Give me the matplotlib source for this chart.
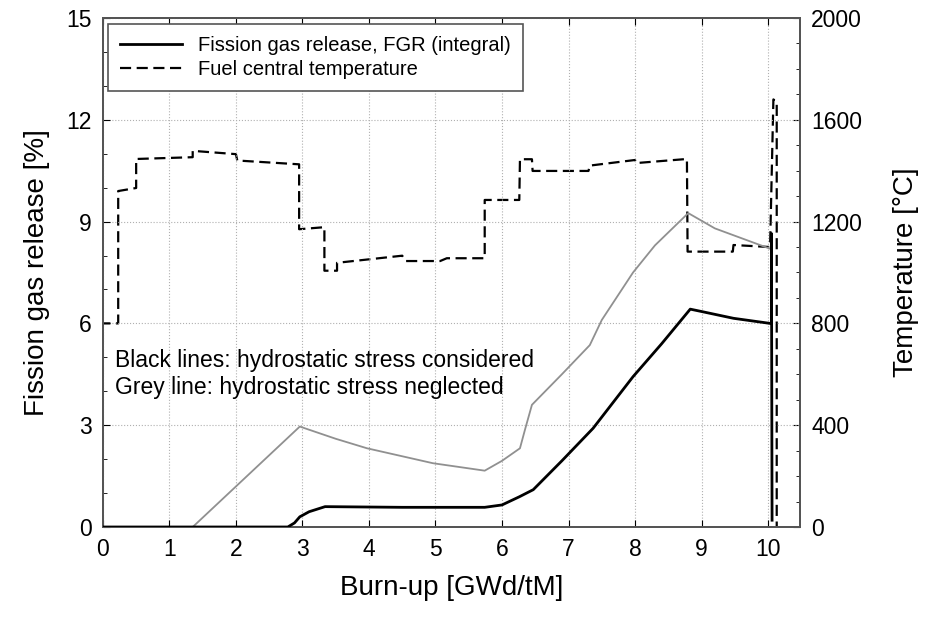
import numpy as np
import matplotlib
matplotlib.use('Agg')
import matplotlib.pyplot as plt
from matplotlib.ticker import MultipleLocator

plt.rcParams['font.family'] = ['Liberation Sans', 'DejaVu Sans']

# FGR, hydrostatic stress considered (black)
fgr_x = [0.0, 2.78, 2.88, 2.96, 3.1, 3.34, 4.5, 5.74, 6.0, 6.26, 6.47,
         6.9, 7.37, 7.97, 8.4, 8.83, 9.0, 9.48, 10.03, 10.05, 10.05, 10.06]
fgr_y = [0.0, 0.0, 0.12, 0.3, 0.45, 0.6, 0.58, 0.58, 0.65, 0.89, 1.1,
         1.95, 2.91, 4.43, 5.4, 6.42, 6.35, 6.15, 6.0, 6.0, 8.65, 0.2]

# FGR, hydrostatic stress neglected (grey)
grey_x = [0.0, 1.35, 2.96, 3.5, 3.97, 4.96, 5.74, 6.0, 6.27, 6.35, 6.45,
          6.9, 7.32, 7.5, 7.97, 8.3, 8.8, 9.2, 10.03]
grey_y = [0.0, 0.0, 2.96, 2.6, 2.32, 1.88, 1.66, 1.95, 2.32, 2.9, 3.6,
          4.5, 5.36, 6.1, 7.5, 8.3, 9.25, 8.8, 8.2]

# fuel central temperature (dashed)
temp_x = [0.0, 0.0, 0.23, 0.23, 0.5, 0.5, 1.35, 1.35, 2.0, 2.02, 2.95,
          2.95, 3.33, 3.33, 3.52, 3.52, 4.5, 4.55, 5.07, 5.17, 5.74,
          5.74, 6.26, 6.27, 6.45, 6.46, 7.3, 7.32, 8.0, 8.02, 8.78,
          8.79, 9.47, 9.48, 10.03, 10.08, 10.13, 10.13]
temp_y = [0, 800, 800, 1320, 1332, 1446, 1453, 1478, 1465, 1440, 1425,
          1170, 1178, 1007, 1007, 1038, 1066, 1045, 1045, 1056, 1056,
          1285, 1285, 1445, 1445, 1399, 1399, 1420, 1442, 1430, 1446,
          1082, 1082, 1108, 1100, 1680, 1670, 0]

fig = plt.figure(figsize=(9.27, 6.2), dpi=100)
ax = fig.add_axes([0.111, 0.150, 0.752, 0.821])
ax2 = ax.twinx()

ax.plot(grey_x, grey_y, color='#909090', lw=1.3, zorder=3)
l1, = ax.plot(fgr_x, fgr_y, color='black', lw=2.0, zorder=4)
l2, = ax2.plot(temp_x, temp_y, color='black', lw=1.6, dashes=(5, 2.5))

ax.set_xlim(0, 10.48)
ax.set_ylim(0, 15)
ax2.set_ylim(0, 2000)
ax.xaxis.set_major_locator(MultipleLocator(1))
ax.yaxis.set_major_locator(MultipleLocator(3))
ax.yaxis.set_minor_locator(MultipleLocator(1))
ax2.yaxis.set_major_locator(MultipleLocator(400))
ax2.yaxis.set_minor_locator(MultipleLocator(100))

ax.grid(True, which='major', color='#b0b0b0', ls=':', lw=0.8)
ax.tick_params(axis='x', direction='in', top=True, labelsize=16.5, pad=8)
ax.tick_params(axis='y', which='both', direction='in', labelsize=16.5, pad=8)
ax2.tick_params(axis='y', which='both', direction='in', labelsize=16.5, pad=8)
ax.tick_params(which='major', length=5)
ax2.tick_params(which='major', length=5)
ax.tick_params(which='minor', length=3)
ax2.tick_params(which='minor', length=3)

for a in (ax, ax2):
    for s in a.spines.values():
        s.set_color('#555555')
        s.set_linewidth(1.4)

ax.set_xlabel('Burn-up [GWd/tM]', fontsize=20, labelpad=10)
ax.set_ylabel('Fission gas release [%]', fontsize=20, labelpad=12)
ax2.set_ylabel('Temperature [°C]', fontsize=20, labelpad=22)

ax.text(0.18, 3.92, 'Black lines: hydrostatic stress considered\nGrey line: hydrostatic stress neglected',
        fontsize=16.5, va='baseline', ha='left', linespacing=1.2)

leg = ax.legend([l1, l2], ['Fission gas release, FGR (integral)', 'Fuel central temperature'],
                loc='upper left', bbox_to_anchor=(0.007, 0.988), borderaxespad=0,
                fontsize=14.5, handlelength=3.1, handletextpad=0.8, fancybox=False,
                framealpha=1, borderpad=0.6, labelspacing=0.25)
leg.get_frame().set_edgecolor('#555555')
leg.get_frame().set_linewidth(1.2)
ax.set_zorder(ax2.get_zorder() + 1)
ax.patch.set_visible(False)

fig.savefig('out.png', dpi=100)
